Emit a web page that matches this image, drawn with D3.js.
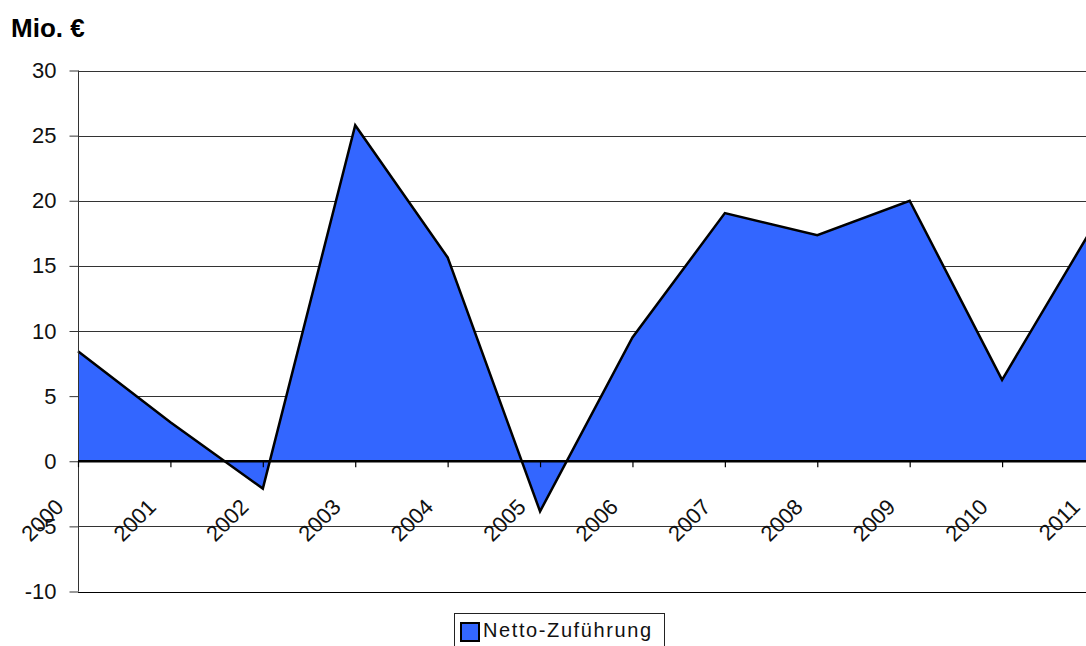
<!DOCTYPE html>
<html>
<head>
<meta charset="utf-8">
<script src="https://cdn.jsdelivr.net/npm/d3@7"></script>
<style>
  html, body { margin: 0; padding: 0; background: #fff; }
  svg { display: block; font-family: "Liberation Sans", Arial, sans-serif; }
</style>
</head>
<body>
<svg id="chart" width="1086" height="646"></svg>
<script>
// Net allocation per year, in million euro
const years = ["2000", "2001", "2002", "2003", "2004", "2005", "2006", "2007", "2008", "2009", "2010", "2011"];
const values = [8.45, 3.0, -2.1, 25.8, 15.65, -3.85, 9.5, 19.05, 17.35, 20.0, 6.25, 18.2];
const yTicks = [-10, -5, 0, 5, 10, 15, 20, 25, 30];
const seriesName = "Netto-Zuführung";
const unitLabel = "Mio. €";

const svg = d3.select("#chart");
const data = years.map((yr, i) => ({ year: yr, value: values[i] }));

const x = d3.scalePoint().domain(years).range([78, 1094.5]).padding(0);
const y = d3.scaleLinear().domain([-10, 30]).range([591.5, 70.5]);
const left = 78, right = 1094.5;

// horizontal gridlines
svg.append("g")
  .selectAll("line")
  .data(yTicks.filter(d => d !== 0))
  .join("line")
  .attr("x1", left).attr("x2", right)
  .attr("y1", d => Math.round(y(d)) + 0.5).attr("y2", d => Math.round(y(d)) + 0.5)
  .attr("stroke", d => d === -10 ? "#000" : "#333")
  .attr("stroke-width", 1);

// filled area between the series and zero
const area = d3.area()
  .x(d => x(d.year))
  .y0(y(0))
  .y1(d => y(d.value));
svg.append("path")
  .datum(data)
  .attr("d", area)
  .attr("fill", "#3366FF");

// series outline
const line = d3.line()
  .x(d => x(d.year))
  .y(d => y(d.value));
svg.append("path")
  .datum(data)
  .attr("d", line)
  .attr("fill", "none")
  .attr("stroke", "#000")
  .attr("stroke-width", 2.5)
  .attr("stroke-linejoin", "miter");

// value axis
const yAxis = svg.append("g")
  .attr("transform", `translate(${left + 0.5},0)`)
  .call(d3.axisLeft(y).tickValues(yTicks).tickSize(9).tickPadding(13).tickFormat(d => String(d)));
yAxis.select(".domain").attr("stroke", "#333").attr("d", `M0,${y(30)}V${y(-10)}`);
yAxis.selectAll(".tick line").attr("stroke", "#333");
yAxis.selectAll(".tick text")
  .attr("fill", "#111")
  .style("font-size", "22px")
  .style("font-family", "'Liberation Sans', Arial, sans-serif");

// category axis along zero
const xAxis = svg.append("g")
  .attr("transform", `translate(0,${y(0)})`)
  .call(d3.axisBottom(x).tickSize(6).tickFormat(() => ""));
xAxis.select(".domain").attr("stroke", "#000").attr("stroke-width", 2.5)
  .attr("d", `M${left},0H${right}`);
xAxis.selectAll(".tick line").attr("stroke", "#000").attr("stroke-width", 1.2);

// rotated year labels
svg.append("g")
  .selectAll("text")
  .data(years)
  .join("text")
  .attr("transform", d => `translate(${x(d) - 13},${y(0) + 47}) rotate(-45)`)
  .attr("text-anchor", "end")
  .attr("fill", "#111")
  .style("font-size", "22px")
  .text(d => d);

// unit label
svg.append("text")
  .attr("x", 11).attr("y", 37)
  .attr("fill", "#000")
  .style("font-size", "26px")
  .style("font-weight", "bold")
  .text(unitLabel);

// legend
const legend = svg.append("g");
legend.append("rect")
  .attr("x", 454.5).attr("y", 613.5).attr("width", 210).attr("height", 40)
  .attr("fill", "#fff").attr("stroke", "#222").attr("stroke-width", 1);
legend.append("rect")
  .attr("x", 461).attr("y", 623).attr("width", 18).attr("height", 18)
  .attr("fill", "#3366FF").attr("stroke", "#000").attr("stroke-width", 2);
legend.append("text")
  .attr("x", 483).attr("y", 637)
  .attr("fill", "#111")
  .style("font-size", "20px")
  .style("letter-spacing", "1.6px")
  .text(seriesName);
</script>
</body>
</html>
